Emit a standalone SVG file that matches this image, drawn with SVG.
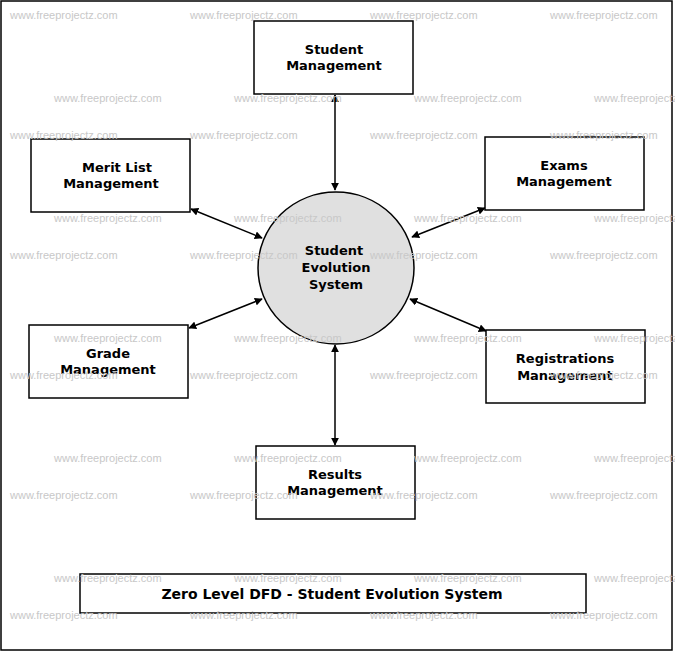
<svg xmlns="http://www.w3.org/2000/svg" width="675" height="652" viewBox="0 0 675 652">
<style>
.wm{font-family:"Liberation Sans",Arial,sans-serif;font-size:11px;fill:#c8c8c8}
.box{fill:#fff;stroke:#000;stroke-width:1.5}
.lbl{font-family:"DejaVu Sans",sans-serif;font-size:13px;font-weight:bold;text-anchor:middle;fill:#000}
.c{stroke:#000;stroke-width:1.5;fill:none;marker-start:url(#a);marker-end:url(#a)}
</style>
<defs><marker id="a" viewBox="0 0 10 10" refX="9" refY="5" markerWidth="8" markerHeight="8" orient="auto-start-reverse" markerUnits="userSpaceOnUse"><path d="M0,0L10,5L0,10z" fill="#000"/></marker></defs>
<rect x="0" y="0" width="675" height="652" fill="#fff"/>
<rect x="1" y="1" width="671" height="649" fill="none" stroke="#000" stroke-width="1.5"/>
<g id="connectors">
<line class="c" x1="335" y1="95" x2="335" y2="190"/>
<line class="c" x1="191" y1="209" x2="262" y2="238"/>
<line class="c" x1="485" y1="208" x2="412" y2="237"/>
<line class="c" x1="189" y1="328" x2="262" y2="299"/>
<line class="c" x1="486" y1="331" x2="410" y2="299"/>
<line class="c" x1="335" y1="345" x2="335" y2="445"/>
</g>
<g id="student"><rect class="box" x="254" y="21" width="159" height="73"/><text class="lbl" x="334" y="54">Student</text><text class="lbl" x="334" y="70">Management</text></g>
<g id="merit"><rect class="box" x="31" y="139" width="159" height="73"/><text class="lbl" x="117" y="172">Merit List</text><text class="lbl" x="111" y="188">Management</text></g>
<g id="exams"><rect class="box" x="485" y="137" width="159" height="73"/><text class="lbl" x="564" y="170">Exams</text><text class="lbl" x="564" y="186">Management</text></g>
<g id="center"><ellipse cx="336" cy="268" rx="78" ry="76" fill="#e0e0e0" stroke="#000" stroke-width="1.5"/><text class="lbl" x="334" y="255">Student</text><text class="lbl" x="336" y="272">Evolution</text><text class="lbl" x="336" y="289">System</text></g>
<g id="grade"><rect class="box" x="29" y="325" width="159" height="73"/><text class="lbl" x="108" y="358">Grade</text><text class="lbl" x="108" y="374">Management</text></g>
<g id="reg"><rect class="box" x="486" y="330" width="159" height="73"/><text class="lbl" x="565" y="363">Registrations</text><text class="lbl" x="565" y="380">Management</text></g>
<g id="results"><rect class="box" x="256" y="446" width="159" height="73"/><text class="lbl" x="335" y="479">Results</text><text class="lbl" x="335" y="495">Management</text></g>
<g id="title"><rect class="box" x="80" y="574" width="506" height="39"/><text class="lbl" x="332" y="599" style="font-size:14px">Zero Level DFD - Student Evolution System</text></g>
<g id="watermarks" class="wm">
<text x="10" y="19">www.freeprojectz.com</text><text x="190" y="19">www.freeprojectz.com</text><text x="370" y="19">www.freeprojectz.com</text><text x="550" y="19">www.freeprojectz.com</text>
<text x="54" y="102">www.freeprojectz.com</text><text x="234" y="102">www.freeprojectz.com</text><text x="414" y="102">www.freeprojectz.com</text><text x="594" y="102">www.freeprojectz.com</text>
<text x="10" y="139">www.freeprojectz.com</text><text x="190" y="139">www.freeprojectz.com</text><text x="370" y="139">www.freeprojectz.com</text><text x="550" y="139">www.freeprojectz.com</text>
<text x="54" y="222">www.freeprojectz.com</text><text x="234" y="222">www.freeprojectz.com</text><text x="414" y="222">www.freeprojectz.com</text><text x="594" y="222">www.freeprojectz.com</text>
<text x="10" y="259">www.freeprojectz.com</text><text x="190" y="259">www.freeprojectz.com</text><text x="370" y="259">www.freeprojectz.com</text><text x="550" y="259">www.freeprojectz.com</text>
<text x="54" y="342">www.freeprojectz.com</text><text x="234" y="342">www.freeprojectz.com</text><text x="414" y="342">www.freeprojectz.com</text><text x="594" y="342">www.freeprojectz.com</text>
<text x="10" y="379">www.freeprojectz.com</text><text x="190" y="379">www.freeprojectz.com</text><text x="370" y="379">www.freeprojectz.com</text><text x="550" y="379">www.freeprojectz.com</text>
<text x="54" y="462">www.freeprojectz.com</text><text x="234" y="462">www.freeprojectz.com</text><text x="414" y="462">www.freeprojectz.com</text><text x="594" y="462">www.freeprojectz.com</text>
<text x="10" y="499">www.freeprojectz.com</text><text x="190" y="499">www.freeprojectz.com</text><text x="370" y="499">www.freeprojectz.com</text><text x="550" y="499">www.freeprojectz.com</text>
<text x="54" y="582">www.freeprojectz.com</text><text x="234" y="582">www.freeprojectz.com</text><text x="414" y="582">www.freeprojectz.com</text><text x="594" y="582">www.freeprojectz.com</text>
<text x="10" y="619">www.freeprojectz.com</text><text x="190" y="619">www.freeprojectz.com</text><text x="370" y="619">www.freeprojectz.com</text><text x="550" y="619">www.freeprojectz.com</text>
</g>
</svg>
